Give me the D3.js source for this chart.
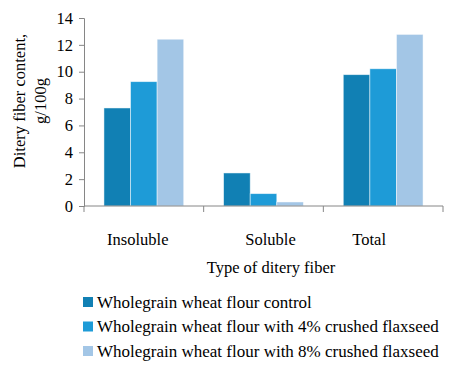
<!DOCTYPE html>
<html>
<head>
<meta charset="utf-8">
<script src="https://cdn.jsdelivr.net/npm/d3@7"></script>
<style>
  body { margin: 0; background: #fff; }
  text { font-family: "Liberation Serif", "Times New Roman", serif; fill: #000; }
</style>
</head>
<body>
<div id="chart-area"></div>
<script>
const categories = ["Insoluble", "Soluble", "Total"];
const seriesNames = [
  "Wholegrain wheat flour control",
  "Wholegrain wheat flour with 4% crushed flaxseed",
  "Wholegrain wheat flour with 8% crushed flaxseed"
];
const control = [7.3, 2.46, 9.78];
const flax4 = [9.26, 0.92, 10.22];
const flax8 = [12.42, 0.3, 12.78];
const yTicks = [0, 2, 4, 6, 8, 10, 12, 14];
const colors = ["#1180b4", "#1e9bd7", "#a3c6e6"];

const series = [control, flax4, flax8];
const data = categories.map((c, i) => ({
  category: c,
  values: series.map((s, j) => ({ key: seriesNames[j], value: s[i], idx: j }))
}));

const margin = {top: 18, right: 14, bottom: 171, left: 84};
const width = 457 - margin.left - margin.right;
const height = 377 - margin.top - margin.bottom;

const svg = d3.select("#chart-area").append("svg")
    .attr("width", 457)
    .attr("height", 377);

const g = svg.append("g")
    .attr("transform", "translate(" + margin.left + ", " + margin.top + ")");

const x = d3.scaleBand().domain(categories).range([0, width]).paddingInner(0).paddingOuter(0);
const x1 = d3.scaleBand().domain(d3.range(3)).range([0, x.bandwidth()]).paddingOuter(0.75).paddingInner(0);
const y = d3.scaleLinear().domain([0, 14]).range([height, 0]);

// bars
const groups = g.selectAll(".group").data(data).enter().append("g")
    .attr("transform", (d) => "translate(" + x(d.category) + ",0)");

groups.selectAll("rect").data((d) => d.values).enter().append("rect")
    .attr("x", (d) => x1(d.idx))
    .attr("y", (d) => y(d.value))
    .attr("width", x1.bandwidth())
    .attr("height", (d) => height - y(d.value))
    .attr("fill", (d) => colors[d.idx])
    .attr("stroke", "#ffffff")
    .attr("stroke-opacity", 0.6)
    .attr("stroke-width", 0.8);

// y axis
const yAxis = g.append("g")
    .call(d3.axisLeft(y).tickValues(yTicks).tickSize(5).tickPadding(6));
yAxis.select(".domain").attr("stroke", "#868686");
yAxis.selectAll(".tick line").attr("stroke", "#868686");
yAxis.selectAll(".tick text")
    .style("font-size", "16.5px")
    .style("font-family", "Liberation Serif, serif")
    .attr("fill", "#000");

// x axis: line with ticks at category boundaries
const xAxisGroup = g.append("g").attr("transform", "translate(0," + height + ")");
xAxisGroup.append("line")
    .attr("x1", 0).attr("x2", width)
    .attr("stroke", "#868686");
const bounds = categories.map((c) => x(c)).concat([width]);
xAxisGroup.selectAll(".bt").data(bounds).enter().append("line")
    .attr("x1", (d) => d).attr("x2", (d) => d)
    .attr("y1", 0).attr("y2", 6)
    .attr("stroke", "#868686");

const labelShift = [-6, 7, -14];
xAxisGroup.selectAll(".cat").data(categories).enter().append("text")
    .attr("x", (d, i) => x(d) + x.bandwidth() / 2 + labelShift[i])
    .attr("y", 39)
    .attr("text-anchor", "middle")
    .style("font-size", "16.5px")
    .text((d) => d);

svg.append("text")
    .attr("x", 271)
    .attr("y", 273)
    .attr("text-anchor", "middle")
    .style("font-size", "16.5px")
    .text("Type of ditery fiber");

// y label, two lines
const yl = svg.append("text")
    .attr("transform", "translate(0,101) rotate(-90)")
    .attr("text-anchor", "middle")
    .style("font-size", "16.5px");
yl.append("tspan").attr("x", 0).attr("y", 25).text("Ditery fiber content,");
yl.append("tspan").attr("x", 0).attr("y", 46).text("g/100g");

// legend
const legend = svg.append("g").attr("transform", "translate(83, 302)");
const items = legend.selectAll(".item").data(seriesNames).enter().append("g")
    .attr("transform", (d, i) => "translate(0," + (i * 24.5) + ")");
items.append("rect")
    .attr("x", 0).attr("y", -5)
    .attr("width", 10).attr("height", 10)
    .attr("fill", (d, i) => colors[i]);
items.append("text")
    .attr("x", 14)
    .attr("y", 5.5)
    .style("font-size", "17px")
    .text((d) => d);
</script>
</body>
</html>
